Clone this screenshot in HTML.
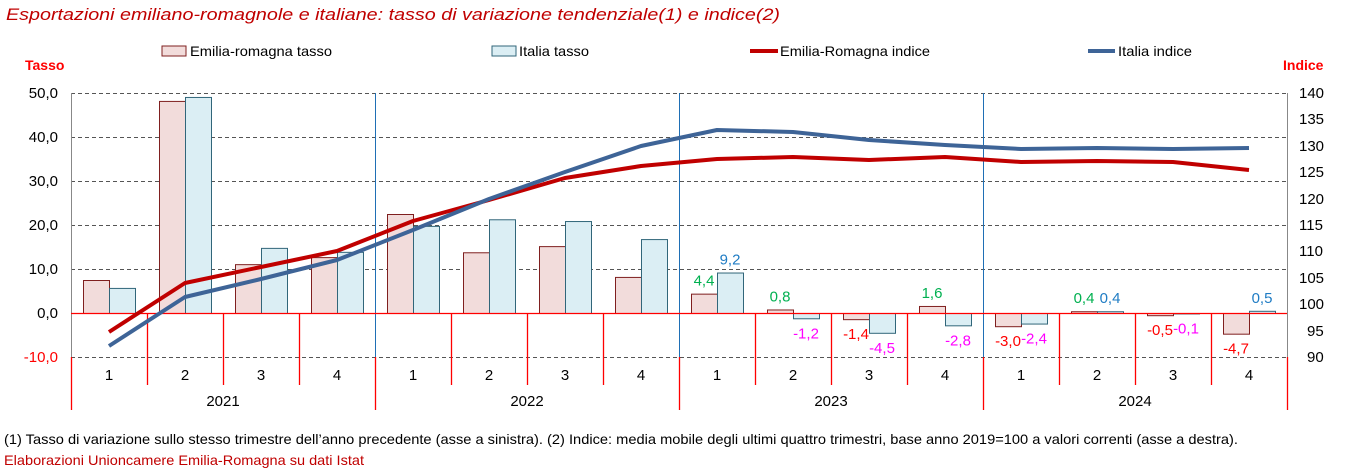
<!DOCTYPE html>
<html><head><meta charset="utf-8"><style>
html,body{margin:0;padding:0;background:#fff;}
svg{display:block;font-family:"Liberation Sans",sans-serif;}
</style></head><body>
<svg width="1346" height="469" viewBox="0 0 1346 469" xmlns="http://www.w3.org/2000/svg">
<text x="6" y="20" font-size="17" font-style="italic" fill="#c00000" textLength="774" lengthAdjust="spacingAndGlyphs">Esportazioni emiliano-romagnole e italiane: tasso di variazione tendenziale(1) e indice(2)</text>
<rect x="162" y="46" width="24" height="10" fill="#f2dcdb" stroke="#7f1f1f"/>
<text x="190" y="56" font-size="14" textLength="142" lengthAdjust="spacingAndGlyphs">Emilia-romagna tasso</text>
<rect x="492" y="46" width="24" height="10" fill="#dbeef4" stroke="#31667a"/>
<text x="519" y="56" font-size="14" textLength="70" lengthAdjust="spacingAndGlyphs">Italia tasso</text>
<line x1="750" y1="51" x2="778" y2="51" stroke="#c00000" stroke-width="4"/>
<text x="780" y="56" font-size="14" textLength="150" lengthAdjust="spacingAndGlyphs">Emilia-Romagna indice</text>
<line x1="1088" y1="51" x2="1115" y2="51" stroke="#3e6497" stroke-width="4"/>
<text x="1118" y="56" font-size="14" textLength="74" lengthAdjust="spacingAndGlyphs">Italia indice</text>
<text x="25" y="70" font-size="14" font-weight="bold" fill="#ff0000">Tasso</text>
<text x="1283" y="70" font-size="14" font-weight="bold" fill="#ff0000">Indice</text>
<g stroke="#555" stroke-dasharray="4,3" stroke-width="1">
<line x1="71" y1="93.5" x2="1287" y2="93.5"/>
<line x1="71" y1="137.5" x2="1287" y2="137.5"/>
<line x1="71" y1="181.5" x2="1287" y2="181.5"/>
<line x1="71" y1="225.5" x2="1287" y2="225.5"/>
<line x1="71" y1="269.5" x2="1287" y2="269.5"/>
<line x1="71" y1="357.5" x2="1287" y2="357.5"/>
</g>
<g stroke="#1f6fb5" stroke-width="1">
<line x1="375.5" y1="93" x2="375.5" y2="357"/>
<line x1="679.5" y1="93" x2="679.5" y2="357"/>
<line x1="983.5" y1="93" x2="983.5" y2="357"/>
</g>
<g font-size="15" text-anchor="end">
<text x="58" y="98">50,0</text><text x="58" y="142">40,0</text><text x="58" y="186">30,0</text>
<text x="58" y="230">20,0</text><text x="58" y="274">10,0</text><text x="58" y="318">0,0</text>
<text x="58" y="362" fill="#ff0000">-10,0</text>
</g>
<g font-size="15">
<text x="1299" y="98">140</text><text x="1299" y="124">135</text><text x="1299" y="151">130</text>
<text x="1299" y="177">125</text><text x="1299" y="204">120</text><text x="1299" y="230">115</text>
<text x="1299" y="256">110</text><text x="1299" y="283">105</text><text x="1299" y="309">100</text>
<text x="1307" y="336">95</text><text x="1307" y="362">90</text>
</g>
<g stroke="#888"><line x1="71.5" y1="93" x2="71.5" y2="357"/><line x1="1287.5" y1="93" x2="1287.5" y2="357"/></g>
<g id="bars" stroke-width="1"></g>
<line x1="71" y1="313.5" x2="1287" y2="313.5" stroke="#ff0000" stroke-width="1.2"/>
<g stroke="#ff0000" stroke-width="1.3">
<line x1="71.5" y1="357" x2="71.5" y2="410"/>
<line x1="147.5" y1="313" x2="147.5" y2="385"/>
<line x1="223.5" y1="313" x2="223.5" y2="385"/>
<line x1="299.5" y1="313" x2="299.5" y2="385"/>
<line x1="375.5" y1="357" x2="375.5" y2="410"/>
<line x1="451.5" y1="313" x2="451.5" y2="385"/>
<line x1="527.5" y1="313" x2="527.5" y2="385"/>
<line x1="603.5" y1="313" x2="603.5" y2="385"/>
<line x1="679.5" y1="357" x2="679.5" y2="410"/>
<line x1="755.5" y1="313" x2="755.5" y2="385"/>
<line x1="831.5" y1="313" x2="831.5" y2="385"/>
<line x1="907.5" y1="313" x2="907.5" y2="385"/>
<line x1="983.5" y1="357" x2="983.5" y2="410"/>
<line x1="1059.5" y1="313" x2="1059.5" y2="385"/>
<line x1="1135.5" y1="313" x2="1135.5" y2="385"/>
<line x1="1211.5" y1="313" x2="1211.5" y2="385"/>
<line x1="1287.5" y1="357" x2="1287.5" y2="410"/>
</g>
<polyline fill="none" stroke="#c00000" stroke-width="4" stroke-linejoin="round" points="109,332 185,283 261,267 337,251 413,221 489,200 565,178 641,166 717,159 793,157 869,160 945,157 1021,162 1097,161 1173,162 1249,170"/>
<polyline fill="none" stroke="#3e6497" stroke-width="4" stroke-linejoin="round" points="109,346 185,297 261,279 337,260 413,230 489,199 565,172 641,146 717,130 793,132 869,140 945,145 1021,149 1097,148 1173,149 1249,148"/>
<g id="lbl" font-size="15"></g>
<g font-size="15" text-anchor="middle" id="cat"></g>
<text x="4" y="444" font-size="14" textLength="1234" lengthAdjust="spacingAndGlyphs">(1) Tasso di variazione sullo stesso trimestre dell’anno precedente (asse a sinistra). (2) Indice: media mobile degli ultimi quattro trimestri, base anno 2019=100 a valori correnti (asse a destra).</text>
<text x="4" y="465" font-size="14" fill="#c00000" textLength="360" lengthAdjust="spacingAndGlyphs">Elaborazioni Unioncamere Emilia-Romagna su dati Istat</text>
</svg>
<script>
var ns="http://www.w3.org/2000/svg";
var er=[7.5,48.2,11.1,12.7,22.5,13.8,15.2,8.2,4.4,0.8,-1.4,1.6,-3.0,0.4,-0.5,-4.7];
var it=[5.7,49.1,14.8,13.9,19.8,21.3,20.9,16.8,9.2,-1.2,-4.5,-2.8,-2.4,0.4,-0.1,0.5];
function el(t,a,p){var e=document.createElementNS(ns,t);for(var k in a)e.setAttribute(k,a[k]);p.appendChild(e);return e;}
var b=document.getElementById("bars"),lb=document.getElementById("lbl"),ct=document.getElementById("cat");
function Y(v){return 313-v*4.4;}
function fmt(v){return v.toFixed(1).replace(".",",");}
for(var i=0;i<16;i++){
 var x0=71+76*i;
 var y1=Y(er[i]);el("rect",{x:x0+12.5,y:Math.min(y1,313)+.5,width:26,height:Math.abs(313-y1),fill:"#f2dcdb",stroke:"#7f1f1f"},b);
 var y2=Y(it[i]);el("rect",{x:x0+38.5,y:Math.min(y2,313)+.5,width:26,height:Math.abs(313-y2),fill:"#dbeef4",stroke:"#31667a"},b);
 var t=el("text",{x:x0+38,y:380},ct);t.textContent=(i%4)+1;
 if(i>=8){
  var a=el("text",{x:x0+25,y:er[i]>=0?y1-8:y1+20,fill:er[i]>=0?"#00b050":"#ff0000","text-anchor":"middle"},lb);a.textContent=fmt(er[i]);
  var c=el("text",{x:x0+51,y:it[i]>=0?y2-8:y2+20,fill:it[i]>=0?"#1f7cc4":"#ff00ff","text-anchor":"middle"},lb);c.textContent=fmt(it[i]);
 }
}
for(var j=0;j<4;j++){var t=el("text",{x:223+304*j,y:406},ct);t.textContent=2021+j;}
</script>
</body></html>
